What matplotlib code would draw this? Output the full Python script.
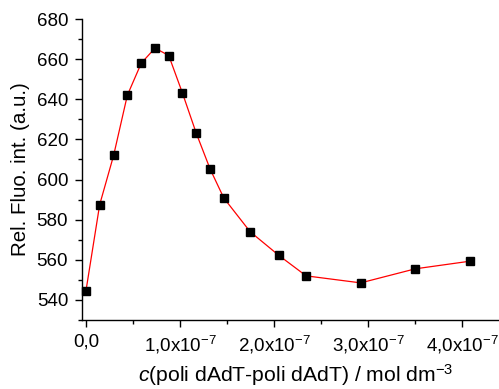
import matplotlib
matplotlib.use("Agg")
import matplotlib.pyplot as plt
from matplotlib.ticker import FixedLocator, MultipleLocator

# concentration (mol dm-3) and relative fluorescence intensity
conc = [0.0, 0.146e-7, 0.294e-7, 0.44e-7, 0.588e-7, 0.734e-7, 0.88e-7,
        1.024e-7, 1.173e-7, 1.32e-7, 1.465e-7, 1.745e-7, 2.05e-7, 2.34e-7,
        2.92e-7, 3.50e-7, 4.08e-7]
intensity = [544.5, 587.5, 612, 642, 658, 665.5, 661.8, 643.3, 623, 605.2,
             590.8, 574, 562.2, 552, 548.5, 555.5, 559.3]

xticks = [0.0, 1e-7, 2e-7, 3e-7, 4e-7]
xtick_labels = ["0,0", "1,0x10$^{-7}$", "2,0x10$^{-7}$", "3,0x10$^{-7}$", "4,0x10$^{-7}$"]
yticks = [540, 560, 580, 600, 620, 640, 660, 680]

plt.rcParams['font.family'] = ['Liberation Sans', 'DejaVu Sans']
plt.rcParams['mathtext.fontset'] = 'custom'
plt.rcParams['mathtext.rm'] = 'Liberation Sans'
plt.rcParams['mathtext.it'] = 'Liberation Sans:italic'

fig = plt.figure(figsize=(4.99, 3.89), dpi=100)
ax = fig.add_axes([82 / 499, 69 / 389, 1 - 82 / 499, (320 - 19) / 389])

ax.plot(conc, intensity, color='red', lw=0.9, marker='s', ms=5.3,
        mfc='black', mec='black', zorder=3, clip_on=False)

ax.set_xlim(-0.042e-7, 4.39e-7)
ax.set_ylim(530, 680)
ax.xaxis.set_major_locator(FixedLocator(xticks))
ax.set_xticklabels(xtick_labels)
ax.xaxis.set_minor_locator(MultipleLocator(0.5e-7))
ax.set_yticks(yticks)
ax.yaxis.set_minor_locator(MultipleLocator(10))

for side in ['top', 'right']:
    ax.spines[side].set_visible(False)
for side in ['left', 'bottom']:
    ax.spines[side].set_linewidth(1.0)

ax.tick_params(which='major', direction='out', length=5, width=1, labelsize=13.5, pad=5)
ax.tick_params(which='minor', direction='out', length=3, width=1)

ax.set_ylabel("Rel. Fluo. int. (a.u.)", fontsize=14.8, labelpad=5)
ax.set_xlabel("$\\it{c}$(poli dAdT-poli dAdT) / mol dm$^{-3}$", fontsize=15.2)
ax.xaxis.set_label_coords(0.513, -0.14)

fig.savefig("out.png", dpi=100)
